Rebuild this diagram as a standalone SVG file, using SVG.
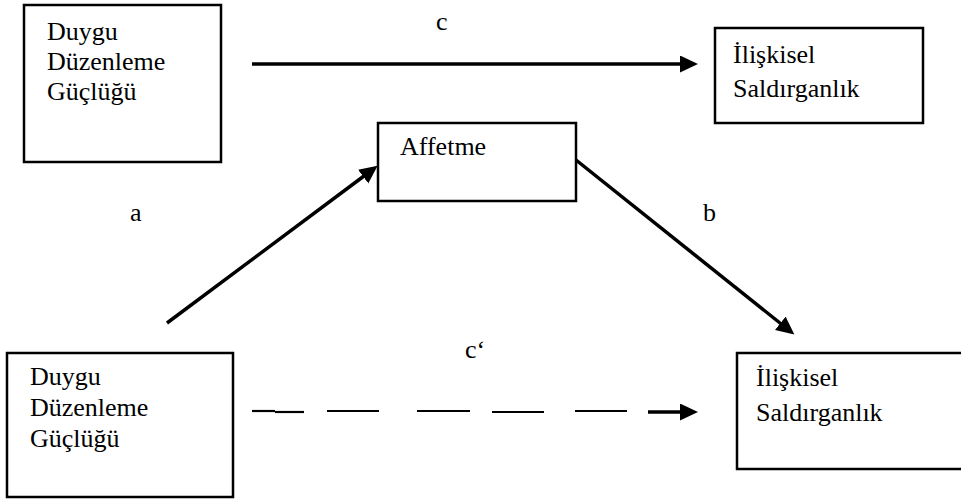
<svg xmlns="http://www.w3.org/2000/svg" width="961" height="499" viewBox="0 0 961 499">
<style>
.box{fill:#fff;stroke:#000;stroke-width:2.5}
.t{font-family:"Liberation Serif","Times New Roman",serif;font-size:26px;fill:#000}
.ln{stroke:#000;stroke-width:3.5;fill:none}
.dash{stroke:#000;stroke-width:2.2;fill:none}
</style>
<defs>
<marker id="ah" markerUnits="userSpaceOnUse" markerWidth="19" markerHeight="18" refX="6" refY="8.5" orient="auto">
<path d="M0,0 L18,8.5 L0,17 z" fill="#000"/>
</marker>
</defs>
<rect width="961" height="499" fill="#fff"/>
<g id="node-ddg-top">
<rect class="box" x="24" y="5" width="197" height="157"/>
<text class="t" x="47" y="40">Duygu</text>
<text class="t" x="47" y="70">Düzenleme</text>
<text class="t" x="47" y="100">Güçlüğü</text>
</g>
<g id="node-is-top">
<rect class="box" x="715" y="28" width="208" height="95"/>
<text class="t" x="733" y="63">İlişkisel</text>
<text class="t" x="733" y="97">Saldırganlık</text>
</g>
<g id="node-affetme">
<rect class="box" x="378" y="123" width="198" height="78"/>
<text class="t" x="400" y="155">Affetme</text>
</g>
<g id="node-ddg-bottom">
<rect class="box" x="7" y="353" width="226" height="144"/>
<text class="t" x="30" y="385">Duygu</text>
<text class="t" x="30" y="416">Düzenleme</text>
<text class="t" x="30" y="447">Güçlüğü</text>
</g>
<g id="node-is-bottom">
<rect class="box" x="737" y="353" width="240" height="116"/>
<text class="t" x="756" y="386">İlişkisel</text>
<text class="t" x="756" y="421">Saldırganlık</text>
</g>
<g id="connectors">
<line class="ln" x1="252" y1="64" x2="686" y2="64" marker-end="url(#ah)"/>
<line class="ln" x1="167" y1="323" x2="368" y2="173" marker-end="url(#ah)"/>
<line class="ln" x1="576" y1="160" x2="785" y2="327" marker-end="url(#ah)"/>
<line class="dash" x1="252" y1="411" x2="275" y2="411"/>
<line class="dash" x1="275" y1="412" x2="304" y2="412"/>
<line class="dash" x1="327" y1="411" x2="379" y2="411"/>
<line class="dash" x1="417" y1="411" x2="470" y2="411"/>
<line class="dash" x1="492" y1="412" x2="544" y2="412"/>
<line class="dash" x1="575" y1="411" x2="627" y2="411"/>
<line class="ln" x1="648" y1="412" x2="686" y2="412" marker-end="url(#ah)"/>
</g>
<g id="labels">
<text class="t" x="436" y="30">c</text>
<text class="t" x="130" y="221">a</text>
<text class="t" x="703" y="221">b</text>
<text class="t" x="465" y="358">c‘</text>
</g>
</svg>
